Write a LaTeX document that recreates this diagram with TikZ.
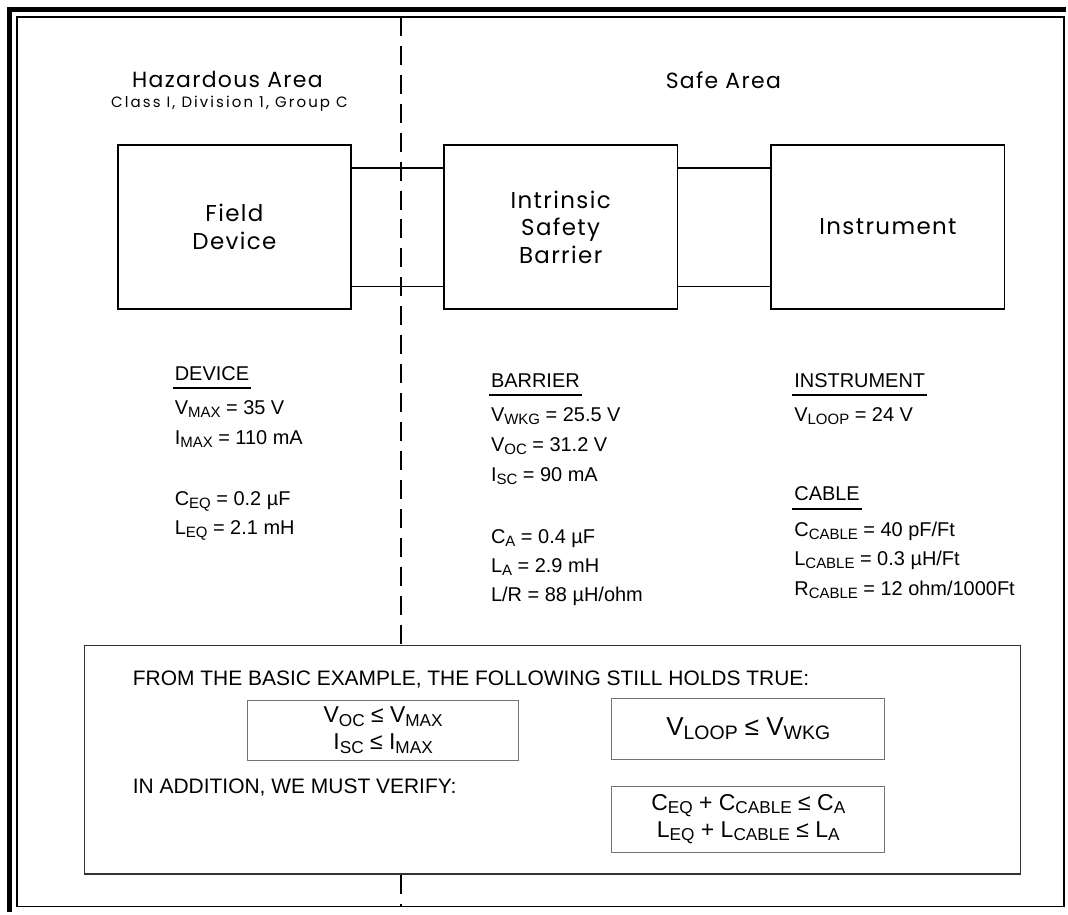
\documentclass[tikz,border=0pt]{standalone}
\usepackage{fontspec}
\setmainfont{Liberation Sans}
\newfontfamily\geo{Poppins}[LetterSpace=6]
\newfontfamily\geow{Poppins}[LetterSpace=14]
\newcommand\sbs[1]{\raisebox{-0.15em}{\scalebox{0.75}{#1}}}
\tikzset{
  blk/.style={draw=black, line width=1.6pt, minimum width=234pt, minimum height=164.5pt, inner sep=0pt, align=center, font=\geo\fontsize{23}{27.5}\selectfont},
  head/.style={font=\geo\fontsize{22}{24}\selectfont, inner sep=0pt},
  sub/.style={font=\geow\fontsize{15}{16}\selectfont, inner sep=0pt},
  lbl/.style={anchor=base west, inner sep=0pt, font=\fontsize{20}{24}\selectfont},
  uline/.style={line width=2.2pt},
  wire/.style={line width=1.5pt},
  divider/.style={line width=1.4pt, dash pattern=on 19pt off 10pt},
  fbox/.style={draw=black!55, line width=1pt, inner sep=0pt, align=center, font=\fontsize{23}{27}\selectfont},
  btext/.style={anchor=base west, inner sep=0pt, font=\fontsize{21}{24}\selectfont}
}
\begin{document}
\begin{tikzpicture}[x=1pt,y=-1pt]
\fill[white] (0,0) rectangle (1068,914);
% frame
\draw[line width=5pt] (9.5,914) -- (9.5,9.5) -- (1068,9.5);
\draw[line width=1.2pt] (17,17) rectangle (1066.5,908.5);
% headings
\node[head] (haz) at (228,80) {Hazardous Area};
\node[sub] (cls) at (230,104) {Class I, Division 1, Group C};
\node[head] (safe) at (725,80) {Safe Area};
% blocks
\node[blk] (fd) at (235,227.5) {Field\\Device};
\node[blk] (bar) at (562,227.5) {Intrinsic\\Safety\\Barrier};
\node[blk] (ins) at (890,227.5) {Instrument};
\draw[wire] ([yshift=-24pt]fd.north east) -- ([yshift=-24pt]bar.north west);
\draw[wire] ([yshift=23.5pt]fd.south east) -- ([yshift=23.5pt]bar.south west);
\draw[wire] ([yshift=-24pt]bar.north east) -- ([yshift=-24pt]ins.north west);
\draw[wire] ([yshift=23.5pt]bar.south east) -- ([yshift=23.5pt]ins.south west);
% device data
\node[lbl] (devh) at (175,381) {DEVICE};
\draw[uline] ([xshift=-2pt,yshift=-8pt]devh.base west) -- ([xshift=2pt,yshift=-8pt]devh.base east);
\node[lbl] (d1) at (175,415) {V\sbs{MAX} = 35 V};
\node[lbl] (d2) at (175,446) {I\sbs{MAX} = 110 mA};
\node[lbl] (d3) at (175,507) {C\sbs{EQ} = 0.2 µF};
\node[lbl] (d4) at (175,536) {L\sbs{EQ} = 2.1 mH};
% barrier data
\node[lbl] (barh) at (492,388) {BARRIER};
\draw[uline] ([xshift=-2pt,yshift=-8pt]barh.base west) -- ([xshift=2pt,yshift=-8pt]barh.base east);
\node[lbl] (b1) at (492,422) {V\sbs{WKG} = 25.5 V};
\node[lbl] (b2) at (492,453) {V\sbs{OC} = 31.2 V};
\node[lbl] (b3) at (492,483) {I\sbs{SC} = 90 mA};
\node[lbl] (b4) at (492,545) {C\sbs{A} = 0.4 µF};
\node[lbl] (b5) at (492,574) {L\sbs{A} = 2.9 mH};
\node[lbl] (b6) at (492,603) {L/R = 88 µH/ohm};
% instrument data
\node[lbl] (insh) at (796,388) {INSTRUMENT};
\draw[uline] ([xshift=-2pt,yshift=-8pt]insh.base west) -- ([xshift=2pt,yshift=-8pt]insh.base east);
\node[lbl] (i1) at (796,422) {V\sbs{LOOP} = 24 V};
\node[lbl] (cabh) at (796,502) {CABLE};
\draw[uline] ([xshift=-2pt,yshift=-8pt]cabh.base west) -- ([xshift=2pt,yshift=-8pt]cabh.base east);
\node[lbl] (c1) at (796,538) {C\sbs{CABLE} = 40 pF/Ft};
\node[lbl] (c2) at (796,567) {L\sbs{CABLE} = 0.3 µH/Ft};
\node[lbl] (c3) at (796,597) {R\sbs{CABLE} = 12 ohm/1000Ft};
% bottom box
\node[draw=black!80, line width=1.3pt, minimum width=938pt, minimum height=229pt, inner sep=0pt] (bot) at (554,761.5) {};
\node[btext] (t1) at (133,687) {FROM THE BASIC EXAMPLE, THE FOLLOWING STILL HOLDS TRUE:};
\node[btext] (t2) at (133,795) {IN ADDITION, WE MUST VERIFY:};
\node[fbox, minimum width=272pt, minimum height=60pt] (f1) at (384,732) {V\sbs{OC} ≤ V\sbs{MAX}\\I\sbs{SC} ≤ I\sbs{MAX}};
\node[fbox, minimum width=274pt, minimum height=61pt, font=\fontsize{26}{30}\selectfont] (f2) at (750,730.5) {V\sbs{LOOP} ≤ V\sbs{WKG}};
\node[fbox, minimum width=274pt, minimum height=66pt] (f3) at (750,821) {C\sbs{EQ} + C\sbs{CABLE} ≤ C\sbs{A}\\L\sbs{EQ} + L\sbs{CABLE} ≤ L\sbs{A}};
% divider
\coordinate (dtop) at (402,17);
\coordinate (dbot) at (402,908);
\draw[divider] (dtop) -- (dtop |- bot.north);
\draw[divider] (bot.south -| dtop) -- (dbot);
\end{tikzpicture}
\end{document}
